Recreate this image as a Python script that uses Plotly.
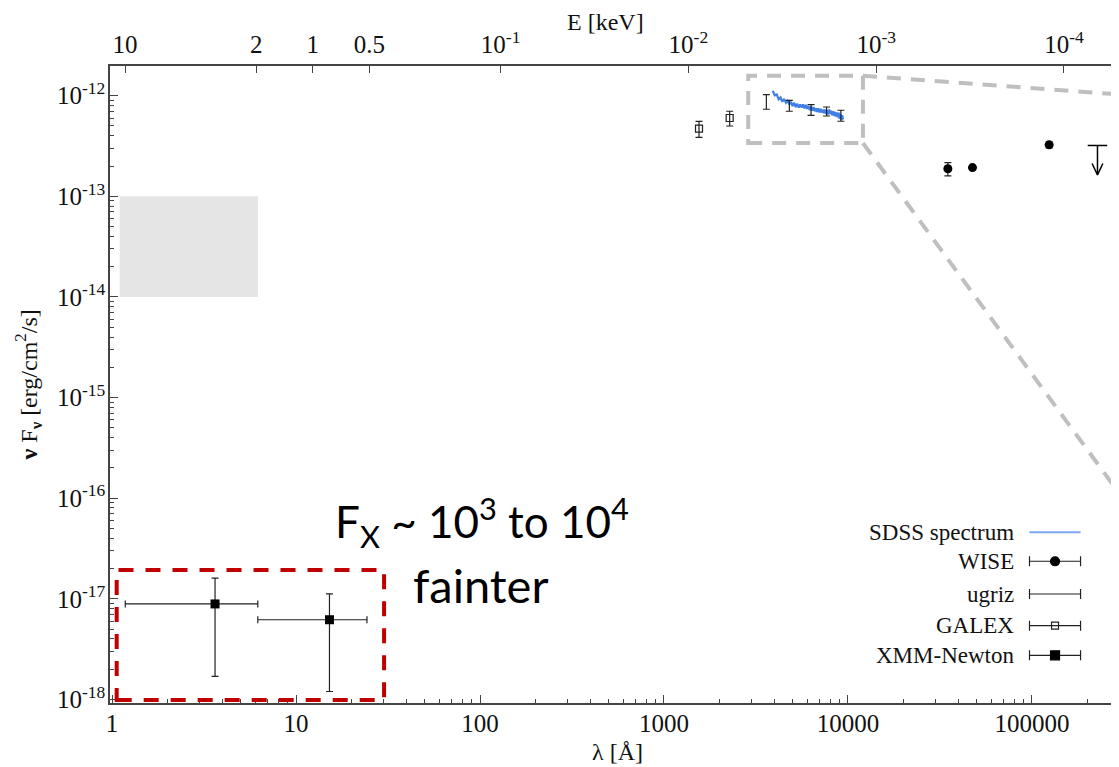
import numpy as np
import plotly.graph_objects as go

# ---- data: wavelength [A], nuFnu [erg/cm^2/s] ----

# SDSS spectrum (flux in units of 1e-13)
sdss_lam = [3900, 4000, 4100, 4200, 4300, 4400, 4500, 4600, 4700, 4800,
            4900, 5000, 5100, 5200, 5300, 5400, 5500, 5600, 5700, 5800,
            5900, 6000, 6100, 6200, 6300, 6400, 6500, 6600, 6700, 6800,
            6900, 7000, 7100, 7200, 7300, 7400, 7500, 7600, 7700, 7800,
            7900, 8000, 8100, 8200, 8300, 8400, 8500, 8600, 8700, 8800,
            8900, 9000, 9100, 9200, 9300, 9400]
sdss_flux13 = [11.2, 10.1, 10.3, 9.2, 9.6, 8.7, 9.3, 8.5, 8.9, 8.2,
               8.7, 7.9, 8.5, 7.7, 8.3, 7.6, 8.2, 7.6, 8.2, 7.5,
               8.1, 7.4, 7.9, 7.2, 7.8, 7.1, 7.7, 7.0, 7.5, 6.9,
               7.5, 6.8, 7.4, 6.8, 7.3, 6.7, 7.3, 6.6, 7.2, 6.5,
               7.3, 6.6, 7.1, 6.4, 7.0, 6.3, 6.9, 6.2, 6.8, 6.1,
               6.8, 5.9, 6.6, 5.7, 6.4, 5.8]

wise_lam = [34900, 47500, 124000]
wise_flux = [1.88e-13, 1.93e-13, 3.25e-13]
wise_err = [0.28e-13, 0.08e-13, 0.22e-13]
wise_ul_lam = [227000]
wise_ul_flux = [3.2e-13]

ugriz_lam = [3600, 4800, 6300, 7650, 9150]
ugriz_flux = [8.78e-13, 8.0e-13, 7.26e-13, 7.0e-13, 6.37e-13]
ugriz_err = [1.45e-13, 1.0e-13, 0.88e-13, 0.72e-13, 0.8e-13]

galex_lam = [1550, 2275]
galex_flux = [4.7e-13, 6.0e-13]
galex_err = [0.85e-13, 1.0e-13]

xmm_lam = [3.63, 15.2]
xmm_lam_lo = [1.18, 6.2]
xmm_lam_hi = [6.2, 24.3]
xmm_flux = [8.9e-18, 6.2e-18]
xmm_err = [7.2e-18, 5.0e-18]

# expected X-ray band (grey area)
band_lam = [1.1, 6.2]
band_flux = [1e-14, 1e-13]

# zoom box around the optical data and the faint X-ray box
zoom_lam = [2870, 12060]
zoom_flux = [3.38e-13, 1.58e-12]
zoom_edge_flux = [1.03e-12, 1.125e-16]
xbox_lam = [1.06, 30.1]
xbox_flux = [0.99e-18, 1.94e-17]

# top axis, energy [keV]
e_ticks = [10, 2, 1, 0.5, 0.1, 0.01, 0.001, 0.0001]
e_text = ['10', '2', '1', '0.5', '10<sup>-1</sup>', '10<sup>-2</sup>',
          '10<sup>-3</sup>', '10<sup>-4</sup>']

legend_names = ['SDSS spectrum', 'WISE', 'ugriz', 'GALEX', 'XMM-Newton']

# ---- figure ----
serif = 'Liberation Serif'
ink = '#222222'
axcol = '#444444'
xr = [-0.011, 5.473]
yr = [-18.035, -11.705]

fig = go.Figure()

fig.add_trace(go.Scatter(x=sdss_lam, y=[f * 1e-13 for f in sdss_flux13],
                         mode='lines', line=dict(color='#3f80e8', width=2.2),
                         showlegend=False))

bar = dict(type='data', color=ink, thickness=1.2, width=3.5)

fig.add_trace(go.Scatter(x=ugriz_lam, y=ugriz_flux, mode='markers',
                         marker=dict(size=1, color='rgba(0,0,0,0)'),
                         error_y=dict(array=ugriz_err, **bar), showlegend=False))

fig.add_trace(go.Scatter(x=galex_lam, y=galex_flux, mode='markers',
                         marker=dict(symbol='square-open', size=7, color=ink,
                                     line=dict(width=1.2)),
                         error_y=dict(array=galex_err, **bar), showlegend=False))

fig.add_trace(go.Scatter(x=wise_lam, y=wise_flux, mode='markers',
                         marker=dict(symbol='circle', size=9, color='black'),
                         error_y=dict(array=wise_err, **bar), showlegend=False))

# upper limit glyph: cap, stem and open arrow head
ul_x, ul_y = [], []
for lam, f in zip(wise_ul_lam, wise_ul_flux):
    tip = f * 0.51
    ul_x += [lam / 1.13, lam * 1.13, None, lam, lam, None, lam / 1.07, lam, lam * 1.07, None]
    ul_y += [f, f, None, f, tip, None, tip * 1.3, tip, tip * 1.3, None]
fig.add_trace(go.Scatter(x=ul_x, y=ul_y, mode='lines',
                         line=dict(color='black', width=1.5), showlegend=False))

fig.add_trace(go.Scatter(
    x=xmm_lam, y=xmm_flux, mode='markers',
    marker=dict(symbol='square', size=9, color='black'),
    error_y=dict(array=xmm_err, **bar),
    error_x=dict(type='data', symmetric=False, color=ink, thickness=1.2, width=3.5,
                 array=[h - l for h, l in zip(xmm_lam_hi, xmm_lam)],
                 arrayminus=[l - lo for l, lo in zip(xmm_lam, xmm_lam_lo)]),
    showlegend=False))

# empty trace so the energy axis is drawn
fig.add_trace(go.Scatter(x=[], y=[], xaxis='x2', showlegend=False))

# ---- hand-made legend (symbols right of the labels) ----
leg_x, leg_hw = 0.9366, 0.0253
leg_y = [0.268, 0.2225, 0.1711, 0.1214, 0.0749]
fig.add_trace(go.Scatter(x=[leg_x - leg_hw, leg_x + leg_hw], y=[leg_y[0]] * 2,
                         xaxis='x3', yaxis='y3', mode='lines',
                         line=dict(color='#7aa7f0', width=2), showlegend=False))
leg_marks = [('circle', 9, 'black'), (None, 1, 'rgba(0,0,0,0)'),
             ('square-open', 7, ink), ('square', 9, 'black')]
for (sym, sz, col), yy in zip(leg_marks, leg_y[1:]):
    fig.add_trace(go.Scatter(
        x=[leg_x], y=[yy], xaxis='x3', yaxis='y3', mode='markers',
        marker=dict(symbol=sym or 'circle', size=sz, color=col, line=dict(width=1.2, color=col)),
        error_x=dict(type='data', array=[leg_hw], color=ink, thickness=1.2, width=5),
        showlegend=False))

annotations = []
for name, yy in zip(legend_names, leg_y):
    annotations.append(dict(text=name, xref='paper', yref='paper', x=0.898, y=yy,
                            xanchor='right', yanchor='middle', showarrow=False,
                            font=dict(family=serif, size=23, color='#111')))

annotations += [
    dict(text='E [keV]', xref='paper', yref='paper', x=0.4906, y=1.069,
         xanchor='center', yanchor='middle', showarrow=False,
         font=dict(family=serif, size=24, color='#111')),
    dict(text='λ [Å]', xref='paper', yref='paper', x=0.5025, y=-0.077,
         xanchor='center', yanchor='middle', showarrow=False,
         font=dict(family=serif, size=24, color='#111')),
    dict(text='<b>ν</b> F<sub><b>ν</b></sub> [erg/cm<sup>2</sup>/s]', xref='paper', yref='paper',
         x=-0.0813, y=0.5, xanchor='center', yanchor='middle', textangle=-90, showarrow=False,
         font=dict(family=serif, size=24, color='#111')),
    dict(text='F<sub>X</sub> ~ 10<sup>3</sup> to 10<sup>4</sup>', xref='paper', yref='paper',
         x=0.221, y=0.284, xanchor='left', yanchor='middle', showarrow=False,
         font=dict(family='Lato', size=44, color='black')),
    dict(text='fainter', xref='paper', yref='paper', x=0.298, y=0.185,
         xanchor='left', yanchor='middle', showarrow=False,
         font=dict(family='Lato', size=47, color='black')),
]

x_edge = 10 ** xr[1]
grey_dash = dict(color='#bfbfbf', width=4, dash='14px,10px')
shapes = [
    dict(type='rect', xref='x', yref='y', x0=band_lam[0], x1=band_lam[1],
         y0=band_flux[0], y1=band_flux[1], fillcolor='#e5e5e5',
         line=dict(width=0), layer='below'),
    dict(type='rect', xref='x', yref='y', x0=zoom_lam[0], x1=zoom_lam[1],
         y0=zoom_flux[0], y1=zoom_flux[1], line=grey_dash),
    dict(type='line', xref='x', yref='y', x0=zoom_lam[1], x1=x_edge,
         y0=zoom_flux[1], y1=zoom_edge_flux[0], line=grey_dash),
    dict(type='line', xref='x', yref='y', x0=zoom_lam[1], x1=x_edge,
         y0=zoom_flux[0], y1=zoom_edge_flux[1], line=grey_dash),
    dict(type='rect', xref='x', yref='y', x0=xbox_lam[0], x1=xbox_lam[1],
         y0=xbox_flux[0], y1=xbox_flux[1],
         line=dict(color='#c00000', width=4, dash='15px,12px')),
    # left edge of the cut-off inset
    dict(type='line', xref='paper', yref='paper', x0=0.996, x1=0.996, y0=0.005, y1=0.955,
         line=dict(color='#888888', width=1.5, dash='dot')),
]

decades_x = range(0, 6)
decades_y = range(-18, -11)
tickfont = dict(family=serif, size=25, color='#111')

# the page body has an 8px margin, so the figure is 8px smaller than the window
fig.update_layout(
    width=1111, height=759,
    margin=dict(l=102, r=0, t=58, b=64, pad=0),
    paper_bgcolor='white', plot_bgcolor='white',
    showlegend=False,
    xaxis=dict(type='log', range=xr, showgrid=False, zeroline=False,
               showline=True, linecolor=axcol, linewidth=1.5,
               ticks='inside', ticklen=8, tickcolor=axcol, tickwidth=1.2,
               tickvals=[10 ** d for d in decades_x],
               ticktext=[str(10 ** d) for d in decades_x],
               tickfont=tickfont, ticklabelstandoff=-3,
               minor=dict(ticks='inside', ticklen=4, tickcolor=axcol, tickwidth=1,
                          tickvals=[m * 10 ** d for d in decades_x for m in range(2, 10)])),
    xaxis2=dict(type='log', overlaying='x', side='top', anchor='y',
                range=[1.0799, -4.2929], showgrid=False, zeroline=False,
                showline=True, linecolor=axcol, linewidth=1.5,
                ticks='inside', ticklen=7, tickcolor=axcol, tickwidth=1.2,
                tickvals=e_ticks, ticktext=e_text, tickfont=tickfont,
                ticklabelstandoff=1),
    xaxis3=dict(overlaying='x', range=[0, 1], visible=False),
    yaxis=dict(type='log', range=yr, showgrid=False, zeroline=False,
               showline=True, linecolor=axcol, linewidth=1.5,
               ticks='inside', ticklen=8, tickcolor=axcol, tickwidth=1.2,
               tickvals=[10.0 ** d for d in decades_y],
               ticktext=['10<sup>%d</sup>' % d for d in decades_y],
               tickfont=tickfont, ticklabelstandoff=-2,
               minor=dict(ticks='inside', ticklen=4, tickcolor=axcol, tickwidth=1,
                          tickvals=[m * 10.0 ** d for d in decades_y for m in range(2, 10)])),
    yaxis3=dict(overlaying='y', range=[0, 1], visible=False),
    annotations=annotations,
    shapes=shapes,
)

fig.write_html("out.html")
